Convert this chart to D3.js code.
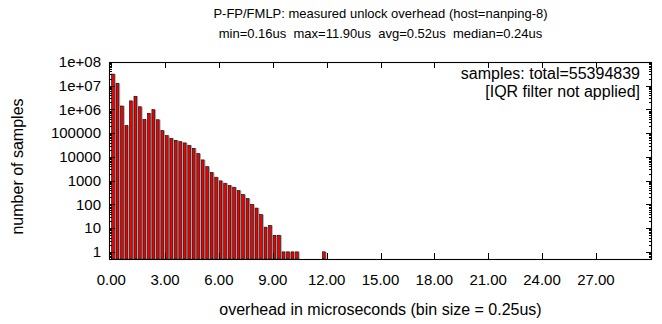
<!DOCTYPE html>
<html>
<head>
<meta charset="utf-8">
<script src="https://cdn.jsdelivr.net/npm/d3@7"></script>
<style>
  html, body { margin: 0; padding: 0; background: #fff; }
  svg text { font-family: "Liberation Sans", Arial, Helvetica, sans-serif; fill: #000; }
</style>
</head>
<body>
<svg id="chart" width="662" height="324"></svg>
<script>
// ---- data ----
const binSize = 0.25;
const binStarts = [
  0.00, 0.25, 0.50, 0.75, 1.00, 1.25, 1.50, 1.75, 2.00, 2.25,
  2.50, 2.75, 3.00, 3.25, 3.50, 3.75, 4.00, 4.25, 4.50, 4.75,
  5.00, 5.25, 5.50, 5.75, 6.00, 6.25, 6.50, 6.75, 7.00, 7.25,
  7.50, 7.75, 8.00, 8.25, 8.50, 8.75, 9.00, 9.25, 9.50, 9.75,
  10.00, 10.25, 11.75
];
const counts = [
  31000000, 12600000, 1400000, 210000, 2300000, 3600000, 1300000, 380000, 690000, 980000,
  370000, 130000, 79000, 61000, 50000, 44000, 39000, 31000, 23000, 14000,
  7500, 3900, 2200, 1400, 980, 780, 620, 530, 380, 260,
  175, 100, 70, 37, 11, 13, 5, 5, 1, 1,
  1, 1, 1
];
const xTickValues = [0, 3, 6, 9, 12, 15, 18, 21, 24, 27];
const xTickLabels = ["0.00", "3.00", "6.00", "9.00", "12.00", "15.00", "18.00", "21.00", "24.00", "27.00"];
const yTickValues = [1, 10, 100, 1000, 10000, 100000, 1e6, 1e7, 1e8];
const yTickLabels = ["1", "10", "100", "1000", "10000", "100000", "1e+06", "1e+07", "1e+08"];
const titleLines = [
  "P-FP/FMLP: measured unlock overhead (host=nanping-8)",
  "min=0.16us  max=11.90us  avg=0.52us  median=0.24us"
];
const legendLines = ["samples: total=55394839", "[IQR filter not applied]"];
const xLabel = "overhead in microseconds (bin size = 0.25us)";
const yLabel = "number of samples";

// ---- layout ----
const L = 109, R = 652, T = 62, B = 259;
const fs = 15;
const svg = d3.select("#chart");

const x = d3.scaleLinear().domain([-0.125, 30.125]).range([L, R]);
const y = d3.scaleLog().domain([0.5, 1e8]).range([B, T]);

const data = binStarts.map((b, i) => ({ b, v: counts[i] }));

// bars
const barW = x(binSize * 0.75) - x(0);
const g = svg.append("g");
g.selectAll("rect.shadow").data(data).enter().append("rect")
  .attr("class", "shadow")
  .attr("x", d => x(d.b) + barW)
  .attr("y", d => y(d.v))
  .attr("width", 1.1)
  .attr("height", d => B - y(d.v))
  .attr("fill", "#a8a8a8");
g.selectAll("rect.bar").data(data).enter().append("rect")
  .attr("class", "bar")
  .attr("x", d => x(d.b) + 0.3)
  .attr("y", d => y(d.v))
  .attr("width", barW - 0.6)
  .attr("height", d => B - y(d.v))
  .attr("fill", "#f20000")
  .attr("stroke", "#000")
  .attr("stroke-width", 0.6);

// ticks (inward, mirrored)
const tickG = svg.append("g").attr("stroke", "#000").attr("stroke-width", 1);
const major = 6, minor = 3;
xTickValues.forEach(v => {
  const px = Math.round(x(v)) + 0.5;
  tickG.append("line").attr("x1", px).attr("x2", px).attr("y1", B).attr("y2", B - major);
  tickG.append("line").attr("x1", px).attr("x2", px).attr("y1", T).attr("y2", T + major);
});
const minorVals = [];
for (let e = -1; e < 8; e++) for (let m = 2; m <= 9; m++) {
  const v = m * Math.pow(10, e);
  if (v >= 0.5 && v < 1e8) minorVals.push(v);
}
yTickValues.forEach(v => {
  const py = Math.round(y(v)) + 0.5;
  tickG.append("line").attr("x1", L).attr("x2", L + major).attr("y1", py).attr("y2", py);
  tickG.append("line").attr("x1", R).attr("x2", R - major).attr("y1", py).attr("y2", py);
});
minorVals.forEach(v => {
  const py = Math.round(y(v)) + 0.5;
  tickG.append("line").attr("x1", L).attr("x2", L + minor).attr("y1", py).attr("y2", py);
  tickG.append("line").attr("x1", R).attr("x2", R - minor).attr("y1", py).attr("y2", py);
});

// frame
svg.append("rect").attr("x", L + 0.5).attr("y", T + 0.5).attr("width", R - L - 1).attr("height", B - T)
  .attr("fill", "none").attr("stroke", "#000").attr("stroke-width", 1.1);

// tick labels
svg.append("g").selectAll("text").data(xTickValues).enter().append("text")
  .attr("x", d => x(d)).attr("y", 280).attr("dy", "0.35em")
  .attr("text-anchor", "middle").attr("font-size", fs)
  .text((d, i) => xTickLabels[i]);
svg.append("g").selectAll("text").data(yTickValues).enter().append("text")
  .attr("x", 101).attr("y", d => y(d)).attr("dy", "0.35em")
  .attr("text-anchor", "end").attr("font-size", fs)
  .text((d, i) => yTickLabels[i]);

// titles
titleLines.forEach((t, i) => {
  svg.append("text").attr("x", (L + R) / 2).attr("y", 13 + i * 20).attr("dy", "0.35em")
    .attr("text-anchor", "middle").attr("font-size", 13).attr("xml:space", "preserve")
    .style("white-space", "pre").text(t);
});
legendLines.forEach((t, i) => {
  svg.append("text").attr("x", 640).attr("y", 73 + i * 18).attr("dy", "0.35em")
    .attr("text-anchor", "end").attr("font-size", 16).text(t);
});
svg.append("text").attr("x", (L + R) / 2).attr("y", 309).attr("dy", "0.35em")
  .attr("text-anchor", "middle").attr("font-size", 16).text(xLabel);
svg.append("text").attr("transform", `translate(17,${(T + B) / 2 + 6}) rotate(-90)`)
  .attr("dy", "0.35em").attr("text-anchor", "middle").attr("font-size", 16).text(yLabel);
</script>
</body>
</html>
